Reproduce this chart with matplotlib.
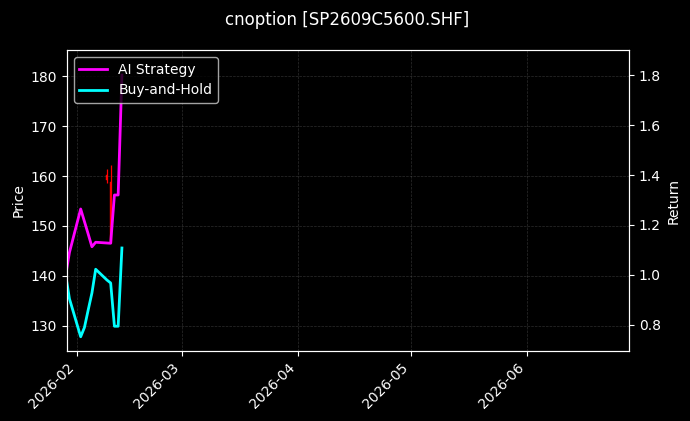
import matplotlib
matplotlib.use("Agg")
import matplotlib.pyplot as plt
import matplotlib.dates as mdates
import numpy as np
import datetime as dt

plt.style.use("dark_background")

# ---- data ----
dates = ["2026-01-29", "2026-01-30", "2026-02-02", "2026-02-03", "2026-02-04",
         "2026-02-05", "2026-02-06", "2026-02-09", "2026-02-10", "2026-02-11",
         "2026-02-12", "2026-02-13"]
ai_strategy = [1.00, 1.09, 1.264, 1.214, 1.164, 1.113, 1.131, 1.128, 1.127, 1.32, 1.32, 1.80]
buy_hold = [1.00, 0.905, 0.753, 0.79, 0.86, 0.928, 1.023, 0.98, 0.968, 0.795, 0.795, 1.108]

candle_dates = ["2026-02-09", "2026-02-10"]
candle_open = [160.2, 158.8]
candle_close = [159.2, 147.0]
candle_high = [161.5, 162.2]
candle_low = [158.6, 146.5]

title = "cnoption [SP2609C5600.SHF]"

# ---- plot ----
fig = plt.figure(figsize=(6.9, 4.21), dpi=100)
ax = fig.add_axes([0.097, 0.1663, 0.8146, 0.7149])
ax2 = ax.twinx()

x = mdates.date2num([dt.datetime.strptime(d, "%Y-%m-%d") for d in dates])
cx = mdates.date2num([dt.datetime.strptime(d, "%Y-%m-%d") for d in candle_dates])

for xi, o, c, h, l in zip(cx, candle_open, candle_close, candle_high, candle_low):
    ax.vlines(xi, l, h, color="red", linewidth=0.9)
    ax.bar(xi, abs(c - o), bottom=min(o, c), width=0.3, color="red", edgecolor="red", linewidth=0.3)

ax2.plot(x, ai_strategy, color="#FF00FF", linewidth=2, label="AI Strategy")
ax2.plot(x, buy_hold, color="#00FFFF", linewidth=2, label="Buy-and-Hold")

ax.set_ylim(125, 185.2)
ax2.set_ylim(0.696, 1.9)
x0 = mdates.date2num(dt.datetime(2026, 2, 1)) - 2.67
x1 = mdates.date2num(dt.datetime(2026, 2, 1)) + 147.3
ax.set_xlim(x0, x1)

ax.xaxis.set_major_locator(mdates.MonthLocator())
ax.xaxis.set_major_formatter(mdates.DateFormatter("%Y-%m"))
plt.setp(ax.get_xticklabels(), rotation=45, ha="right")

ax.set_ylabel("Price")
ax2.set_ylabel("Return")
ax.grid(True, linestyle="--", linewidth=0.5, alpha=0.35, color="gray")

ax2.legend(loc="upper left")
fig.suptitle(title, fontsize=12, x=0.503, y=0.975)

fig.savefig("out.png", dpi=100)
